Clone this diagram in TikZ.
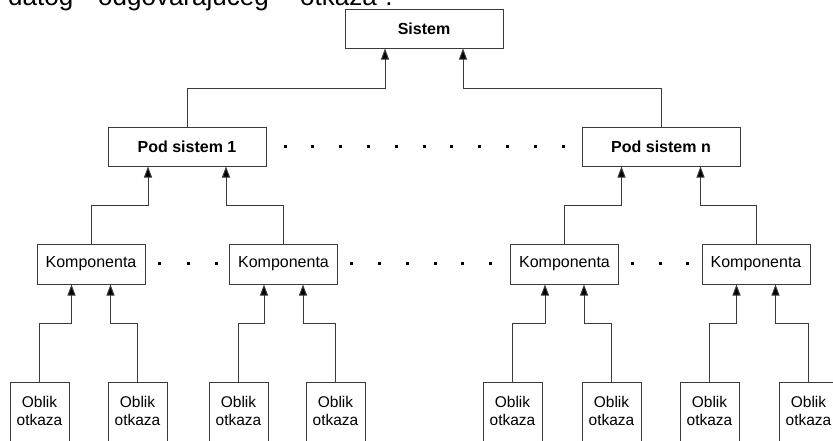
\documentclass[tikz,border=0pt]{standalone}
\usepackage{fontspec}
\setmainfont{Liberation Sans}
\usetikzlibrary{arrows.meta,calc}
\definecolor{linec}{HTML}{3A3A3A}
\begin{document}
\begin{tikzpicture}[x=1pt,y=-1pt,
  box/.style={draw=linec, line width=1pt, inner sep=0pt, minimum height=39pt, font=\fontsize{16}{19}\selectfont},
  bigbox/.style={box, minimum width=158pt, font=\fontsize{16}{19}\selectfont\bfseries},
  kbox/.style={box, minimum width=108pt, minimum height=40pt},
  obox/.style={draw=linec, line width=1pt, minimum width=59pt, minimum height=75pt, anchor=north, inner sep=0pt},
  otext/.style={align=center, font=\fontsize{15.5}{18}\selectfont, inner sep=0pt},
  toptext/.style={anchor=base west, inner sep=0pt, font=\fontsize{26}{30}\selectfont},
  conn/.style={draw=linec, line width=1pt, -{Triangle[width=8pt,length=11pt,fill=black]}},
  ]
\useasboundingbox (0,0) rectangle (833,440);
\clip (0,0) rectangle (833,440);
\fill[white] (0,0) rectangle (833,440);

% clipped text line at top (cut off in the reference as well)
\node[toptext] (w1) at (8,5.5) {datog};
\node[toptext] (w2) at (98,5.5) {odgovarajućeg};
\node[toptext] (w3) at (300,5.5) {otkaza".};

% level 0 / 1
\node[bigbox] (S) at (424,28.5) {Sistem};
\node[bigbox] (P1) at (187,146.5) {Pod sistem 1};
\node[bigbox] (Pn) at (661,146.5) {Pod sistem n};

% level 2
\node[kbox] (K1) at (91,264) {Komponenta};
\node[kbox] (K2) at (283.5,264) {Komponenta};
\node[kbox] (K3) at (564.5,264) {Komponenta};
\node[kbox] (K4) at (756,264) {Komponenta};

% level 3
\node[obox] (Oa) at (39.5,382) {};
\node[obox] (Ob) at (137.5,382) {};
\node[obox] (Oc) at (238.5,382) {};
\node[obox] (Od) at (335.5,382) {};
\node[obox] (Oe) at (512.5,382) {};
\node[obox] (Of) at (611.5,382) {};
\node[obox] (Og) at (709.5,382) {};
\node[obox] (Oh) at (808.5,382) {};
\foreach \o in {Oa,Ob,Oc,Od,Oe,Of,Og,Oh}
  \node[otext] (\o t) at ([yshift=-29pt]\o.north) {Oblik\\otkaza};

% connectors level 1 -> 0
\draw[conn] (P1.north) |- ([xshift=-39pt,yshift=-40pt]S.south) -- ([xshift=-39pt]S.south);
\draw[conn] (Pn.north) |- ([xshift=39pt,yshift=-40pt]S.south) -- ([xshift=39pt]S.south);

% connectors level 2 -> 1
\draw[conn] (K1.north) |- ([xshift=-39pt,yshift=-39pt]P1.south) -- ([xshift=-39pt]P1.south);
\draw[conn] (K2.north) |- ([xshift=39pt,yshift=-39pt]P1.south) -- ([xshift=39pt]P1.south);
\draw[conn] (K3.north) |- ([xshift=-39.5pt,yshift=-39pt]Pn.south) -- ([xshift=-39.5pt]Pn.south);
\draw[conn] (K4.north) |- ([xshift=39.5pt,yshift=-39pt]Pn.south) -- ([xshift=39.5pt]Pn.south);

% connectors level 3 -> 2
\foreach \o/\k/\d in {Oa/K1/-19.5, Ob/K1/19.5, Oc/K2/-19.5, Od/K2/19.5,
                      Oe/K3/-19.5, Of/K3/19.5, Og/K4/-19.5, Oh/K4/19.5}
  \draw[conn] (\o.north) |- ([xshift=\d pt,yshift=-39pt]\k.south) -- ([xshift=\d pt]\k.south);

% dots
\foreach \i in {0,...,10}
  \fill[black] ({285+27.8*\i-1.5},144.5) rectangle ++(3,3);
\foreach \x in {159,188,216, 351,379,407,435,462,490, 632,660,687}
  \fill[black] ({\x-1.5},261.5) rectangle ++(3,3);
\end{tikzpicture}
\end{document}
